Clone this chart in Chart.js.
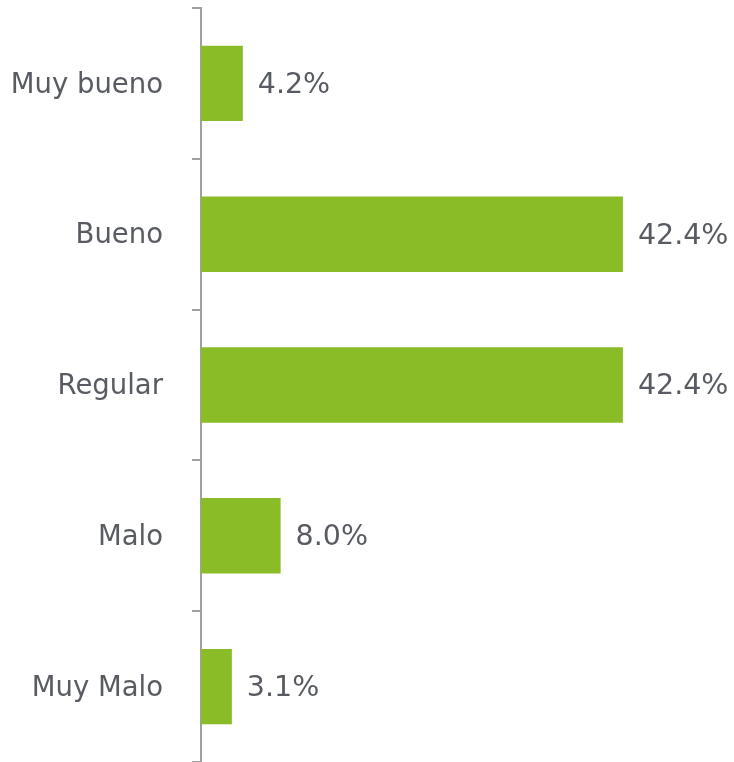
<!DOCTYPE html>
<html>
<head>
<meta charset="utf-8">
<script src="https://cdn.jsdelivr.net/npm/chart.js@4"></script>
<style>
html,body{margin:0;padding:0;background:#fff;}
#wrap{width:734px;height:762px;position:relative;}
</style>
</head>
<body>
<div id="wrap"><canvas id="c"></canvas></div>
<script>
const categories = ["Muy bueno", "Bueno", "Regular", "Malo", "Muy Malo"];
const values = [4.2, 42.4, 42.4, 8.0, 3.1];
const valueLabels = ["4.2%", "42.4%", "42.4%", "8.0%", "3.1%"];

const FONT = "'DejaVu Sans', Verdana, sans-serif";
const TEXT = "#585c62";

const valuePlugin = {
  id: 'valueLabels',
  afterDatasetsDraw(chart) {
    const ctx = chart.ctx;
    const meta = chart.getDatasetMeta(0);
    ctx.save();
    ctx.font = "28.5px " + FONT;
    ctx.fillStyle = TEXT;
    ctx.textAlign = 'left';
    ctx.textBaseline = 'middle';
    meta.data.forEach((bar, i) => {
      ctx.fillText(valueLabels[i], bar.x + 15, bar.y + 2);
    });
    ctx.restore();
  }
};

new Chart(document.getElementById('c'), {
  type: 'bar',
  data: {
    labels: categories,
    datasets: [{
      data: values,
      backgroundColor: '#89BC26',
      categoryPercentage: 1.0,
      barPercentage: 0.5
    }]
  },
  options: {
    indexAxis: 'y',
    responsive: true,
    maintainAspectRatio: false,
    animation: false,
    layout: { padding: { left: 0, right: 35.5, top: 8, bottom: 0 } },
    plugins: { legend: { display: false }, tooltip: { enabled: false } },
    scales: {
      x: { display: false, min: 0, max: 50 },
      y: {
        afterFit(s) { s.width = 201; s.paddingTop = 0; s.paddingBottom = 0; },
        border: { display: true, color: '#a0a0a0', width: 2 },
        grid: { display: true, drawOnChartArea: false, drawTicks: true, tickLength: 9, color: '#a0a0a0', lineWidth: 2, offset: true },
        ticks: { color: TEXT, font: { family: FONT, size: 27.5 }, padding: 29, labelOffset: 2 }
      }
    }
  },
  plugins: [valuePlugin]
});
</script>
</body>
</html>
